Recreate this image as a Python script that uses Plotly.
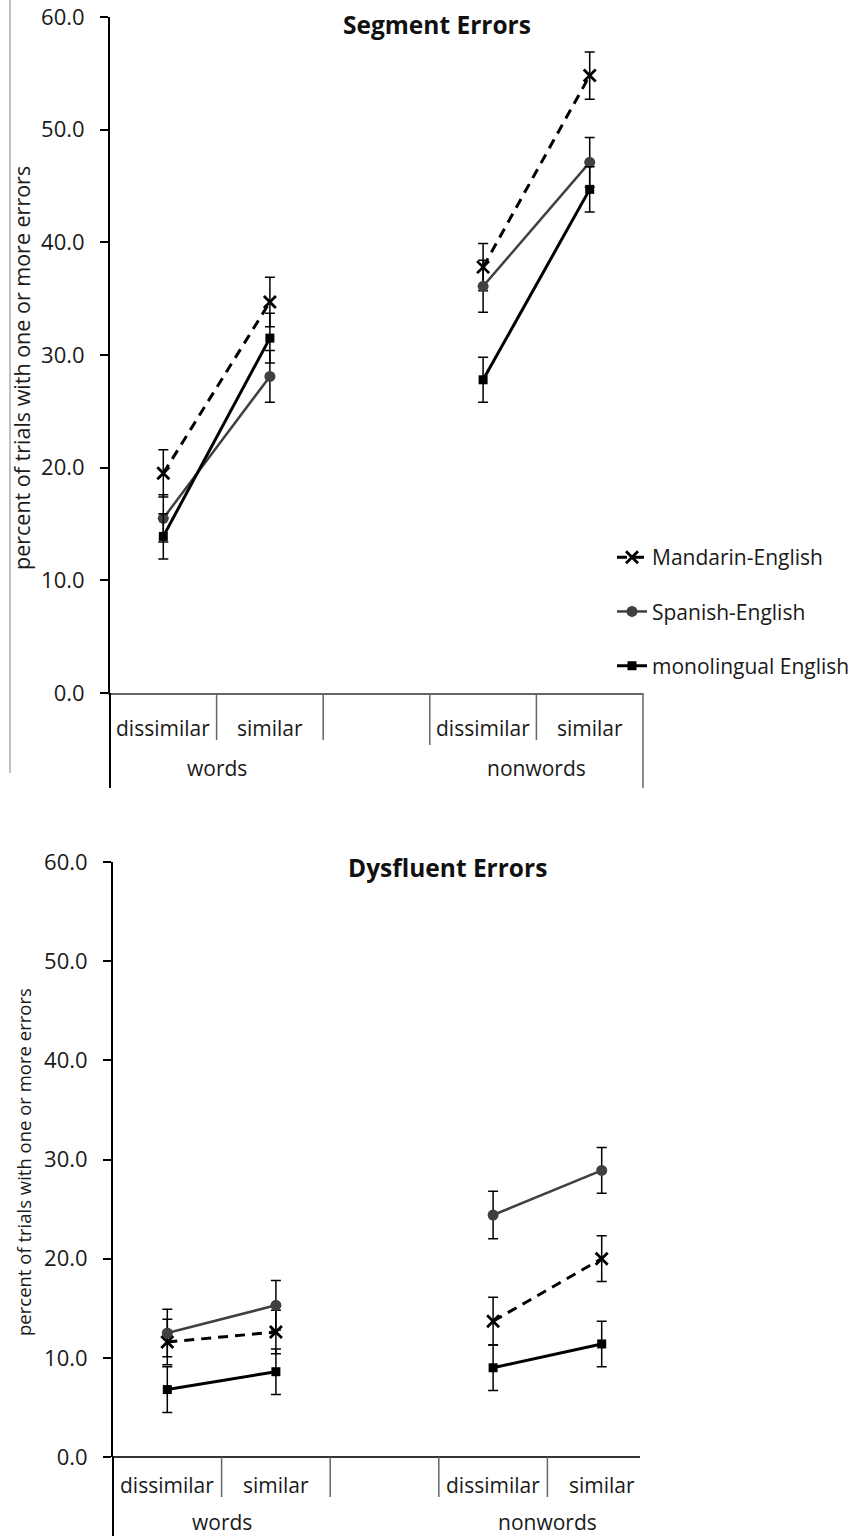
import plotly.graph_objects as go

# ---------------- data ----------------
groups = ["words", "words", "nonwords", "nonwords"]
conditions = ["dissimilar", "similar", "dissimilar", "similar"]
group_names = ["words", "nonwords"]
series_names = ["Mandarin-English", "Spanish-English", "monolingual English"]

seg_mandarin = [19.5, 34.7, 37.8, 54.8]
seg_mandarin_err = [2.1, 2.2, 2.1, 2.1]
seg_spanish = [15.5, 28.1, 36.1, 47.1]
seg_spanish_err = [2.1, 2.3, 2.3, 2.2]
seg_mono = [13.9, 31.5, 27.8, 44.7]
seg_mono_err = [2.0, 2.2, 2.0, 2.0]

dys_mandarin = [11.6, 12.6, 13.7, 20.0]
dys_mandarin_err = [2.3, 2.2, 2.4, 2.3]
dys_spanish = [12.5, 15.3, 24.4, 28.9]
dys_spanish_err = [2.4, 2.5, 2.4, 2.3]
dys_mono = [6.8, 8.6, 9.0, 11.4]
dys_mono_err = [2.3, 2.3, 2.3, 2.3]

y_ticks = [0, 10, 20, 30, 40, 50, 60]
titles = ["Segment Errors", "Dysfluent Errors"]
y_title = "percent of trials with one or more errors"

# ---------------- layout helpers ----------------
W, H = 863, 1536
FONT = "Open Sans, Lato, sans-serif"


def pxx(p):
    return p / W


def pyy(p):
    return 1 - p / H


keys = [f"{g} {c}" for g, c in zip(groups, conditions)]
GAP = " "
slots = keys[:2] + [GAP] + keys[2:]


def with_gap(values):
    # place values on the slot axis, leaving the empty slot between the groups unconnected
    lookup = dict(zip(keys, values))
    return [lookup.get(s) for s in slots]


styles = [
    dict(color="#000000", dash="10px,7px", width=3, symbol="x-thin-open", size=12, mcolor="#000000"),
    dict(color="#404040", dash="solid", width=2.5, symbol="circle", size=11, mcolor="#404040"),
    dict(color="#000000", dash="solid", width=3, symbol="square", size=9, mcolor="#000000"),
]

fig = go.Figure()

panels = [
    ([seg_mandarin, seg_spanish, seg_mono], [seg_mandarin_err, seg_spanish_err, seg_mono_err], "x", "y"),
    ([dys_mandarin, dys_spanish, dys_mono], [dys_mandarin_err, dys_spanish_err, dys_mono_err], "x2", "y2"),
]

for pi, (vals, errs, xa, ya) in enumerate(panels):
    for si, (name, v, e, st) in enumerate(zip(series_names, vals, errs, styles)):
        fig.add_trace(go.Scatter(
            x=slots, y=with_gap(v), name=name, xaxis=xa, yaxis=ya,
            mode="lines+markers", connectgaps=False,
            line=dict(color=st["color"], dash=st["dash"], width=st["width"]),
            marker=dict(symbol=st["symbol"], size=st["size"], color=st["mcolor"],
                        line=dict(color=st["mcolor"], width=2.8 if si == 0 else 0)),
            error_y=dict(type="data", array=with_gap(e), visible=True, color="#000000",
                         thickness=1.5, width=5),
            showlegend=(pi == 0), legendgroup=name,
        ))

axis_common = dict(type="category", categoryorder="array", categoryarray=slots,
                   range=[-0.5, len(slots) - 0.5], showticklabels=False, ticks="",
                   showgrid=False, zeroline=False, fixedrange=True)
yaxis_common = dict(range=[0, 60], tickvals=y_ticks, tickformat=".1f", ticks="outside",
                    ticklen=8, tickwidth=1.5, tickcolor="#000000", showline=True,
                    linecolor="#000000", linewidth=2, showgrid=False, zeroline=False,
                    tickfont=dict(family=FONT, size=22, color="#1a1a1a"),
                    ticklabelstandoff=11, automargin=False, fixedrange=True)

fig.update_layout(
    width=W, height=H, margin=dict(l=0, r=0, t=0, b=0),
    paper_bgcolor="white", plot_bgcolor="white",
    xaxis=dict(domain=[pxx(110), pxx(643)], anchor="y", showline=True,
               linecolor="#666666", linewidth=1.5, **axis_common),
    yaxis=dict(domain=[pyy(693), pyy(17)], anchor="x", **yaxis_common),
    xaxis2=dict(domain=[pxx(113), pxx(656)], anchor="y2", showline=False, **axis_common),
    yaxis2=dict(domain=[pyy(1457), pyy(862)], anchor="x2", **yaxis_common),
    legend=dict(x=pxx(612), y=pyy(537), xanchor="left", yanchor="top",
                font=dict(family=FONT, size=21, color="#1a1a1a"),
                tracegroupgap=24, bgcolor="rgba(0,0,0,0)", itemclick=False),
    showlegend=True,
)

annotations = []
shapes = []


def label(text, x, y, size, bold=False, angle=0):
    return dict(text=f"<b>{text}</b>" if bold else text, x=pxx(x), y=pyy(y), xref="paper", yref="paper",
                xanchor="center", yanchor="middle", textangle=angle, showarrow=False,
                font=dict(family=FONT, size=size, color="#111111" if bold else "#1a1a1a"))


annotations.append(label(titles[0], 437, 24, 24.5, bold=True))
annotations.append(label(titles[1], 447, 867, 24.5, bold=True))
annotations.append(label(y_title, 21, 368, 21.5, angle=-90))
annotations.append(label(y_title, 23, 1162, 18.5, angle=-90))

# category labels
for xa, ya, shift_c, shift_g in [("x", "y", -35, -75), ("x2", "y2", -28, -65)]:
    for k, c in zip(keys, conditions):
        annotations.append(dict(text=c, x=slots.index(k), y=0, xref=xa, yref=f"{ya} domain",
                                yshift=shift_c, xanchor="center", yanchor="middle", showarrow=False,
                                font=dict(family=FONT, size=21, color="#1a1a1a")))
    for g in group_names:
        idx = [slots.index(k) for k, gg in zip(keys, groups) if gg == g]
        annotations.append(dict(text=g, x=sum(idx) / len(idx), y=0, xref=xa, yref=f"{ya} domain",
                                yshift=shift_g, xanchor="center", yanchor="middle", showarrow=False,
                                font=dict(family=FONT, size=21, color="#1a1a1a")))

n = len(slots)
# top panel axis decorations
for i in range(1, n):
    bottom = 745 if i == 3 else 740
    shapes.append(dict(type="line", xref="x domain", yref="paper", x0=i / n, x1=i / n,
                       y0=pyy(693), y1=pyy(bottom), line=dict(color="#666666", width=1.5)))
shapes.append(dict(type="line", xref="x domain", yref="paper", x0=1, x1=1,
                   y0=pyy(693), y1=pyy(788), line=dict(color="#666666", width=1.5)))
shapes.append(dict(type="line", xref="x domain", yref="paper", x0=0, x1=0,
                   y0=pyy(693), y1=pyy(788), line=dict(color="#000000", width=2)))
shapes.append(dict(type="line", xref="paper", yref="paper", x0=pxx(10), x1=pxx(10),
                   y0=pyy(0), y1=pyy(773), line=dict(color="#808080", width=1)))

# bottom panel axis decorations
shapes.append(dict(type="line", xref="x2 domain", yref="y2 domain", x0=0, x1=(640 - 113) / (656 - 113),
                   y0=0, y1=0, line=dict(color="#333333", width=2)))
for i in range(1, n):
    shapes.append(dict(type="line", xref="x2 domain", yref="paper", x0=i / n, x1=i / n,
                       y0=pyy(1457), y1=pyy(1497), line=dict(color="#666666", width=1.5)))
shapes.append(dict(type="line", xref="x2 domain", yref="paper", x0=0, x1=0,
                   y0=pyy(1457), y1=pyy(1536), line=dict(color="#000000", width=2)))

fig.update_layout(annotations=annotations, shapes=shapes)

fig.write_html("out.html", config={"displayModeBar": False},
               post_script="document.body.style.margin='0';")
